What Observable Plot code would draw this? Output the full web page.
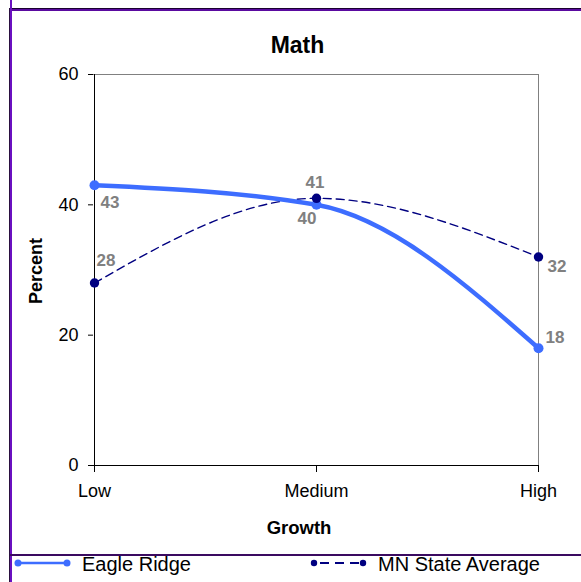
<!DOCTYPE html>
<html>
<head>
<meta charset="utf-8">
<script src="https://cdn.jsdelivr.net/npm/d3@7"></script>
<script src="https://cdn.jsdelivr.net/npm/@observablehq/plot@0.6"></script>
<style>
  html, body { margin: 0; padding: 0; background: white; }
  #wrap { position: relative; width: 581px; height: 582px; overflow: hidden; font-family: "Liberation Sans", Arial, sans-serif; background: white; }
  #wrap > svg { position: absolute; left: 0; top: 0; }
</style>
</head>
<body>
<div id="wrap"></div>
<script>
const categories = ["Low", "Medium", "High"];
const eagleValues = [43, 40, 18];
const mnValues = [28, 41, 32];
const seriesNames = ["Eagle Ridge", "MN State Average"];
const yTicks = [0, 20, 40, 60];
const title = "Math";
const xLabel = "Growth";
const yLabel = "Percent";

const eagleColor = "#3d6dff";
const mnColor = "#000080";
const labelColor = "#808080";
const FONT = "'Liberation Sans', Arial, sans-serif";

const eagle = categories.map((c, i) => ({cat: c, value: eagleValues[i]}));
const mn = categories.map((c, i) => ({cat: c, value: mnValues[i]}));

function label(data, i, opts) {
  return Plot.text([data[i]], {x: "cat", y: "value", text: d => String(d.value),
    fill: labelColor, fontWeight: "bold", fontSize: 17, ...opts});
}

const chart = Plot.plot({
  width: 581,
  height: 582,
  marginLeft: 93,
  marginRight: 43,
  marginTop: 74,
  marginBottom: 117,
  x: {type: "point", domain: categories, padding: 0, label: null},
  y: {domain: [0, 60], label: null},
  style: {fontFamily: FONT, fontSize: "18px", color: "black", background: "transparent", overflow: "visible"},
  marks: [
    Plot.ruleY([60], {stroke: "#808080", strokeWidth: 1}),
    Plot.ruleX([categories[categories.length - 1]], {stroke: "#808080", strokeWidth: 1}),
    Plot.axisY({ticks: yTicks, tickSize: 5, tickPadding: 10, label: null, fontSize: 18, stroke: "black"}),
    Plot.axisX({tickSize: 7, tickPadding: 12, label: null, fontSize: 18}),
    Plot.ruleX([categories[0]], {stroke: "black", strokeWidth: 1}),
    Plot.ruleY([0], {stroke: "black", strokeWidth: 1}),
    Plot.line(mn, {x: "cat", y: "value", curve: "monotone-x", stroke: mnColor, strokeWidth: 1.4, strokeDasharray: "8,5"}),
    Plot.line(eagle, {x: "cat", y: "value", curve: "monotone-x", stroke: eagleColor, strokeWidth: 4.5}),
    Plot.dot(eagle, {x: "cat", y: "value", r: 5, fill: eagleColor, stroke: "none"}),
    Plot.dot(mn, {x: "cat", y: "value", r: 4.7, fill: mnColor, stroke: "none"}),
    label(eagle, 0, {textAnchor: "start", dx: 6, dy: 17}),
    label(eagle, 1, {textAnchor: "end", dx: 0, dy: 14}),
    label(eagle, 2, {textAnchor: "start", dx: 7, dy: -11}),
    label(mn, 0, {textAnchor: "start", dx: 2, dy: -22}),
    label(mn, 1, {textAnchor: "middle", dx: -1.5, dy: -16}),
    label(mn, 2, {textAnchor: "start", dx: 9, dy: 9.5}),
    Plot.text([title], {frameAnchor: "top", textAnchor: "middle", lineAnchor: "middle", dx: -18.5, dy: -29, fontSize: 23, fontWeight: "bold", fill: "black"}),
    Plot.text([xLabel], {frameAnchor: "bottom", textAnchor: "middle", lineAnchor: "middle", dx: -17, dy: 63, fontSize: 18.5, fontWeight: "bold", fill: "black"}),
    Plot.text([yLabel], {frameAnchor: "left", textAnchor: "middle", lineAnchor: "middle", dx: -57, dy: 1, rotate: -90, fontSize: 18, fontWeight: "bold", fill: "black"})
  ]
});

const wrap = document.getElementById("wrap");
wrap.appendChild(chart);

const ov = d3.select(wrap).append("svg").attr("width", 581).attr("height", 582)
  .style("position", "absolute").style("left", "0").style("top", "0");

// frame lines
ov.append("line").attr("x1", 10).attr("x2", 581).attr("y1", 8.5).attr("y2", 8.5).attr("stroke", "#1a0030").attr("stroke-width", 1);
ov.append("line").attr("x1", 10).attr("x2", 581).attr("y1", 10).attr("y2", 10).attr("stroke", "#5a0aa0").attr("stroke-width", 2);
ov.append("line").attr("x1", 9.5).attr("x2", 9.5).attr("y1", 8).attr("y2", 582).attr("stroke", "#2a1040").attr("stroke-width", 1);
ov.append("line").attr("x1", 11).attr("x2", 11).attr("y1", 0).attr("y2", 582).attr("stroke", "#6a10c0").attr("stroke-width", 2);
ov.append("line").attr("x1", 10).attr("x2", 581).attr("y1", 555).attr("y2", 555).attr("stroke", "#3a0a60").attr("stroke-width", 2);

// legend
const legendItems = [
  {name: seriesNames[0], color: eagleColor, width: 2.5, dash: null, r: 3.5, x0: 18},
  {name: seriesNames[1], color: mnColor, width: 2.2, dash: "0,6,9,6,9,6,9,6", r: 3.2, x0: 314}
];
legendItems.forEach(it => {
  const g = ov.append("g");
  g.append("line").attr("x1", it.x0).attr("x2", it.x0 + 49).attr("y1", 563).attr("y2", 563)
    .attr("stroke", it.color).attr("stroke-width", it.width).attr("stroke-dasharray", it.dash);
  [it.x0, it.x0 + 49].forEach(cx => g.append("circle").attr("cx", cx).attr("cy", 563).attr("r", it.r).attr("fill", it.color));
  g.append("text").attr("x", it.x0 + 64).attr("y", 570.5)
    .attr("font-family", FONT).attr("font-size", 20).attr("fill", "black")
    .text(it.name);
});
</script>
</body>
</html>
